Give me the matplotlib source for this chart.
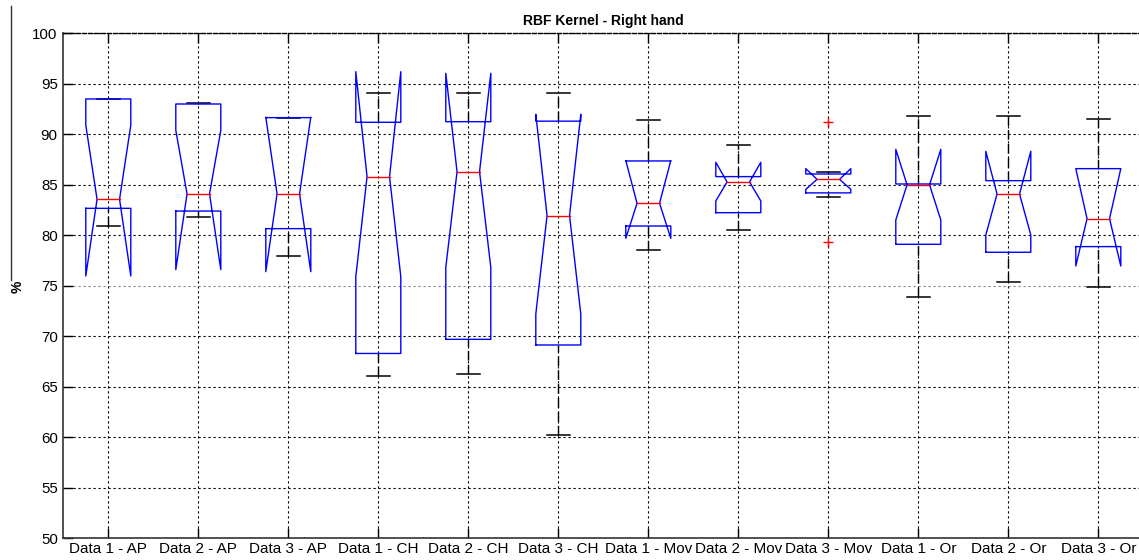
import matplotlib
matplotlib.use('Agg')
import matplotlib.pyplot as plt
from matplotlib.lines import Line2D

categories = ['Data 1 - AP', 'Data 2 - AP', 'Data 3 - AP',
              'Data 1 - CH', 'Data 2 - CH', 'Data 3 - CH',
              'Data 1 - Mov', 'Data 2 - Mov', 'Data 3 - Mov',
              'Data 1 - Or', 'Data 2 - Or', 'Data 3 - Or']
q1       = [82.67, 82.4, 80.66, 68.3, 69.7, 69.14, 80.92, 82.24, 84.2, 79.11, 78.32, 78.88]
medians  = [83.57, 84.1, 84.1, 85.8, 86.3, 81.95, 83.17, 85.28, 85.54, 85.0, 84.09, 81.65]
q3       = [93.5, 93.0, 91.65, 91.19, 91.25, 91.3, 87.36, 85.81, 86.07, 85.08, 85.41, 86.6]
notch_lo = [75.97, 76.6, 76.4, 75.9, 76.83, 72.2, 79.7, 83.4, 84.55, 81.52, 80.03, 76.96]
notch_hi = [90.9, 90.4, 91.7, 96.2, 96.04, 91.98, 87.4, 87.23, 86.6, 88.51, 88.32, 86.6]
whisk_lo = [80.92, 81.85, 77.95, 66.07, 66.27, 60.23, 78.55, 80.56, 83.76, 73.89, 75.38, 74.92]
whisk_hi = [93.5, 93.1, 91.65, 94.13, 94.13, 94.13, 91.42, 88.94, 86.3, 91.78, 91.78, 91.55]
outliers = [[], [], [], [], [], [], [], [], [91.19, 79.34], [], [], []]
yticks = [50, 55, 60, 65, 70, 75, 80, 85, 90, 95, 100]

plt.rcParams['font.family'] = ['Liberation Sans', 'DejaVu Sans']

W, H = 1139, 560
fig = plt.figure(figsize=(W / 100, H / 100), dpi=100)
left, right = 63.3 / W, 1143.3 / W
top, bottom = 1 - 33.3 / H, 1 - 538.3 / H
ax = fig.add_axes([left, bottom, right - left, top - bottom])

hw, nw = 0.25, 0.125
for i in range(len(categories)):
    p = i + 1
    xs = [p - hw, p - hw, p - nw, p - hw, p - hw, p + hw, p + hw, p + nw, p + hw, p + hw, p - hw]
    ys = [q1[i], notch_lo[i], medians[i], notch_hi[i], q3[i], q3[i], notch_hi[i],
          medians[i], notch_lo[i], q1[i], q1[i]]
    # whiskers
    ax.plot([p, p], [q3[i], whisk_hi[i]], color='black', lw=1, ls=(0, (7, 3)), zorder=3)
    ax.plot([p, p], [whisk_lo[i], q1[i]], color='black', lw=1, ls=(0, (7, 3)), zorder=3)
    ax.plot([p - nw, p + nw], [whisk_hi[i], whisk_hi[i]], color='black', lw=1.1, zorder=3)
    ax.plot([p - nw, p + nw], [whisk_lo[i], whisk_lo[i]], color='black', lw=1.1, zorder=3)
    ax.plot(xs, ys, color='#0000ff', lw=1.0, zorder=4)
    ax.plot([p - nw, p + nw], [medians[i], medians[i]], color='#ff0000', lw=1.0, zorder=5)
    for o in outliers[i]:
        ax.plot([p], [o], marker='+', color='#ff0000', ms=7, mew=1, ls='none', zorder=5)

ax.set_xlim(0.5, len(categories) + 0.5)
ax.set_ylim(50, 100)
ax.set_xticks(range(1, len(categories) + 1))
ax.set_xticklabels(categories, fontsize=11)
ax.set_yticks(yticks)
ax.set_yticklabels([str(v) for v in yticks], fontsize=10.8)
ax.tick_params(axis='both', direction='in', length=7, width=1, color='black', top=True)
ax.tick_params(axis='x', pad=3)
ax.tick_params(axis='y', pad=4)

ax.grid(True, color='black', lw=0.8, ls=(0, (2, 2.5)), zorder=1)
ax.set_axisbelow(True)
ygl = ax.get_ygridlines()
ygl[yticks.index(75)].set_color('#888888')

for s in ['left', 'bottom']:
    ax.spines[s].set_color('#333333')
    ax.spines[s].set_linewidth(1.2)
ax.spines['top'].set_linestyle((0, (3, 1.5)))
ax.spines['top'].set_linewidth(1.0)
ax.spines['right'].set_visible(False)

ax.set_title('RBF Kernel - Right hand', fontsize=10, fontweight='bold', pad=6)
fig.text(18 / W, 1 - 287 / H, '%', rotation=90, fontsize=10, fontweight='bold',
         ha='center', va='center')
fig.add_artist(Line2D([11 / W, 11 / W], [1 - 6 / H, 1 - 280 / H], color='#333333', lw=1))

fig.savefig('out.png', dpi=100)
